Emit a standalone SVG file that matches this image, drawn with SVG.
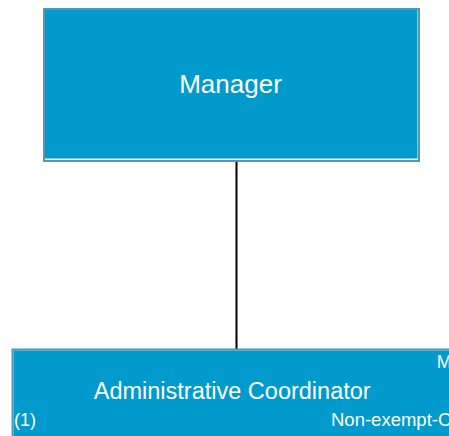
<svg xmlns="http://www.w3.org/2000/svg" width="449" height="436" viewBox="0 0 449 436">
<style>
.frame{fill:#ffffff;stroke:#5796b2;stroke-width:2}
.fill{fill:#009acc}
.t{font-family:"Liberation Sans",Arial,sans-serif;fill:#ffffff}
.conn{stroke:#000000;stroke-width:2;fill:none}
</style>
<rect width="449" height="436" fill="#ffffff"/>
<g id="connectors">
<line class="conn" x1="236.5" y1="162" x2="236.5" y2="349"/>
</g>
<g id="manager">
<rect class="frame" x="44" y="9" width="375" height="152"/>
<rect class="fill" x="45" y="10" width="372.5" height="148.5"/>
<text class="t" x="230.5" y="93" font-size="26" text-anchor="middle">Manager</text>
</g>
<g id="admin-coordinator">
<rect class="frame" x="12.5" y="349.5" width="450" height="100"/>
<rect class="fill" x="13.5" y="350.5" width="450" height="100"/>
<text class="t" x="232.2" y="399" font-size="23.5" text-anchor="middle">Administrative Coordinator</text>
<text class="t" x="436.7" y="368" font-size="18">M</text>
<text class="t" x="14" y="426" font-size="18">(1)</text>
<text class="t" x="331" y="426" font-size="18.5">Non-exempt-C</text>
</g>
</svg>
